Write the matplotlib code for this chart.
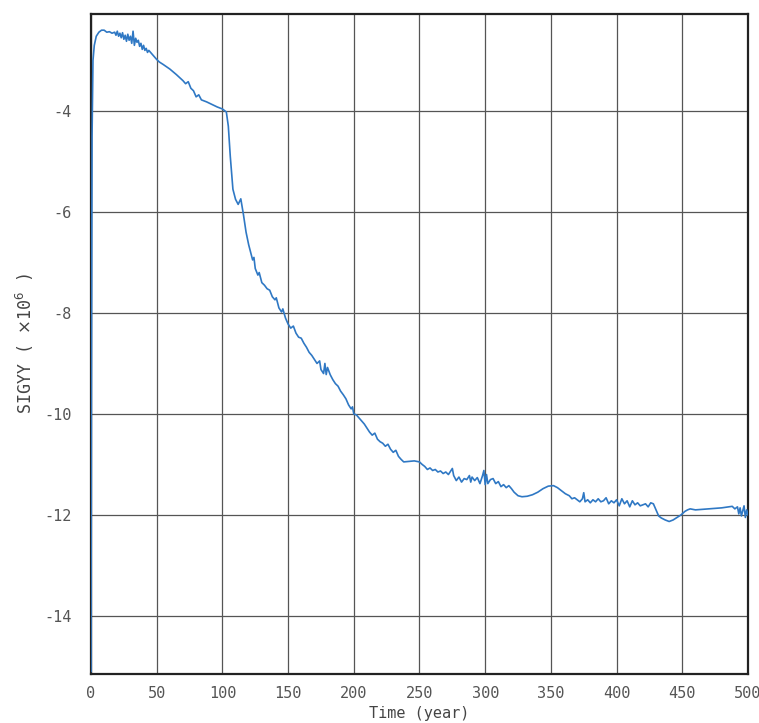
import numpy as np
import matplotlib.pyplot as plt

# SIGYY history (time in years, stress x10^6)
time_yr = [0, 0.3, 0.8, 1.5, 2.5, 4, 6, 8, 10, 12, 14, 16, 18, 19, 20, 21, 22, 23, 24, 25,
           26, 27, 28, 29, 30, 31, 32, 33, 34, 35, 36, 37, 38, 39, 40, 41, 42, 43, 44, 46,
           48, 50, 52, 55, 60, 65, 70, 72, 74, 76, 78, 80, 82, 84, 88, 92, 96, 100, 103, 104.5,
           106, 108, 110, 112, 114, 116, 118, 120, 122, 123, 124, 125, 127, 128, 130, 132, 134, 136, 138, 140,
           141, 143, 145, 146, 148, 150, 152, 154, 156, 158, 160, 162, 164, 166, 168, 170, 172, 174, 175, 177,
           178, 179, 180, 182, 184, 186, 188, 190, 192, 194, 196, 198, 199, 200, 202, 204, 206, 208, 210, 212,
           214, 216, 218, 220, 222, 224, 226, 228, 230, 232, 234, 236, 238, 242, 246, 250, 252, 254, 256, 258,
           260, 262, 264, 266, 268, 270, 272, 274, 275, 276, 278, 280, 282, 284, 286, 288, 289, 290, 292, 294,
           296, 298, 299, 300, 301, 302, 304, 306, 308, 310, 312, 314, 316, 318, 320, 322, 325, 328, 332, 336,
           340, 344, 348, 352, 355, 358, 361, 364, 366, 368, 370, 372, 374, 375, 376, 378, 380, 382, 384, 386,
           388, 390, 392, 394, 396, 398, 400, 402, 404, 406, 408, 410, 412, 414, 416, 418, 420, 422, 424, 426,
           428, 430, 432, 434, 437, 440, 443, 446, 449, 452, 454, 456, 460, 465, 470, 475, 480, 485, 488, 490,
           492, 493, 494, 495, 496, 497, 498, 499, 500]
sigyy = [-15.1, -9.5, -4.5, -3.0, -2.7, -2.52, -2.44, -2.40, -2.40, -2.44, -2.43, -2.46, -2.44, -2.50, -2.42, -2.52, -2.46, -2.55, -2.45, -2.58,
         -2.50, -2.62, -2.48, -2.60, -2.52, -2.66, -2.42, -2.70, -2.56, -2.64, -2.60, -2.72, -2.66, -2.78, -2.70, -2.80, -2.76, -2.84, -2.80, -2.86,
         -2.92, -2.98, -3.03, -3.08, -3.17, -3.28, -3.40, -3.46, -3.42, -3.55, -3.60, -3.72, -3.68, -3.78, -3.82, -3.87, -3.92, -3.96, -4.02, -4.3,
         -4.9, -5.55, -5.75, -5.85, -5.74, -6.05, -6.4, -6.65, -6.85, -6.95, -6.9, -7.12, -7.25, -7.2, -7.4, -7.45, -7.52, -7.55, -7.68, -7.74,
         -7.70, -7.9, -7.98, -7.92, -8.1, -8.22, -8.3, -8.26, -8.4, -8.48, -8.5, -8.6, -8.68, -8.78, -8.84, -8.92, -9.0, -8.95, -9.12, -9.2,
         -9.0, -9.22, -9.08, -9.22, -9.32, -9.4, -9.45, -9.55, -9.62, -9.7, -9.82, -9.9, -9.86, -10.0, -10.02, -10.08, -10.14, -10.2, -10.28, -10.36,
         -10.42, -10.38, -10.5, -10.55, -10.58, -10.64, -10.6, -10.7, -10.76, -10.72, -10.84, -10.9, -10.95, -10.94, -10.93, -10.95, -11.0, -11.04, -11.1, -11.07,
         -11.12, -11.1, -11.15, -11.13, -11.18, -11.15, -11.2, -11.12, -11.08, -11.22, -11.32, -11.25, -11.35, -11.28, -11.3, -11.22, -11.35, -11.25, -11.32, -11.26,
         -11.38, -11.22, -11.12, -11.4, -11.2, -11.38, -11.3, -11.28, -11.38, -11.34, -11.44, -11.4, -11.46, -11.42, -11.48, -11.55, -11.62, -11.64, -11.63, -11.6,
         -11.55, -11.48, -11.43, -11.42, -11.46, -11.52, -11.58, -11.62, -11.68, -11.66, -11.7, -11.74, -11.68, -11.56, -11.74, -11.7, -11.76, -11.7, -11.74, -11.68,
         -11.74, -11.72, -11.66, -11.78, -11.72, -11.76, -11.7, -11.82, -11.68, -11.78, -11.72, -11.84, -11.72, -11.8, -11.76, -11.82, -11.8, -11.78, -11.84, -11.76,
         -11.78, -11.9, -12.02, -12.06, -12.1, -12.13, -12.1, -12.05, -12.0, -11.93, -11.9, -11.88, -11.9, -11.89, -11.88, -11.87, -11.86, -11.84, -11.83, -11.88,
         -11.84, -11.98, -11.86, -12.02, -11.92, -11.82, -12.05, -11.9, -12.0]

x_ticks = [0, 50, 100, 150, 200, 250, 300, 350, 400, 450, 500]
y_ticks = [-14, -12, -10, -8, -6, -4]

fig = plt.figure(figsize=(7.59, 7.23), dpi=100)
ax = fig.add_axes([0.1199, 0.0678, 0.8656, 0.9128])

ax.plot(time_yr, sigyy, color='#2f78c4', lw=1.2, zorder=3)

ax.set_xlim(0, 500)
ax.set_ylim(-15.15, -2.08)
ax.set_xticks(x_ticks)
ax.set_yticks(y_ticks)
ax.set_yticklabels([str(v) for v in y_ticks])
ax.grid(True, color='#555555', lw=0.9)
ax.tick_params(length=0, labelsize=11, labelcolor='#555555')
ax.tick_params(axis='x', pad=9)
ax.tick_params(axis='y', pad=14)
for lbl in ax.get_xticklabels() + ax.get_yticklabels():
    lbl.set_family('DejaVu Sans Mono')

for sp in ax.spines.values():
    sp.set_linewidth(1.6)
    sp.set_color('#222222')

ax.set_xlabel('Time (year)', fontsize=11, color='#444444', family='DejaVu Sans Mono', labelpad=3)
ax.set_ylabel(r'SIGYY ( $\times$10$^6$ )', fontsize=12, color='#444444', family='DejaVu Sans Mono', labelpad=6)

fig.savefig('out.png', dpi=100)
